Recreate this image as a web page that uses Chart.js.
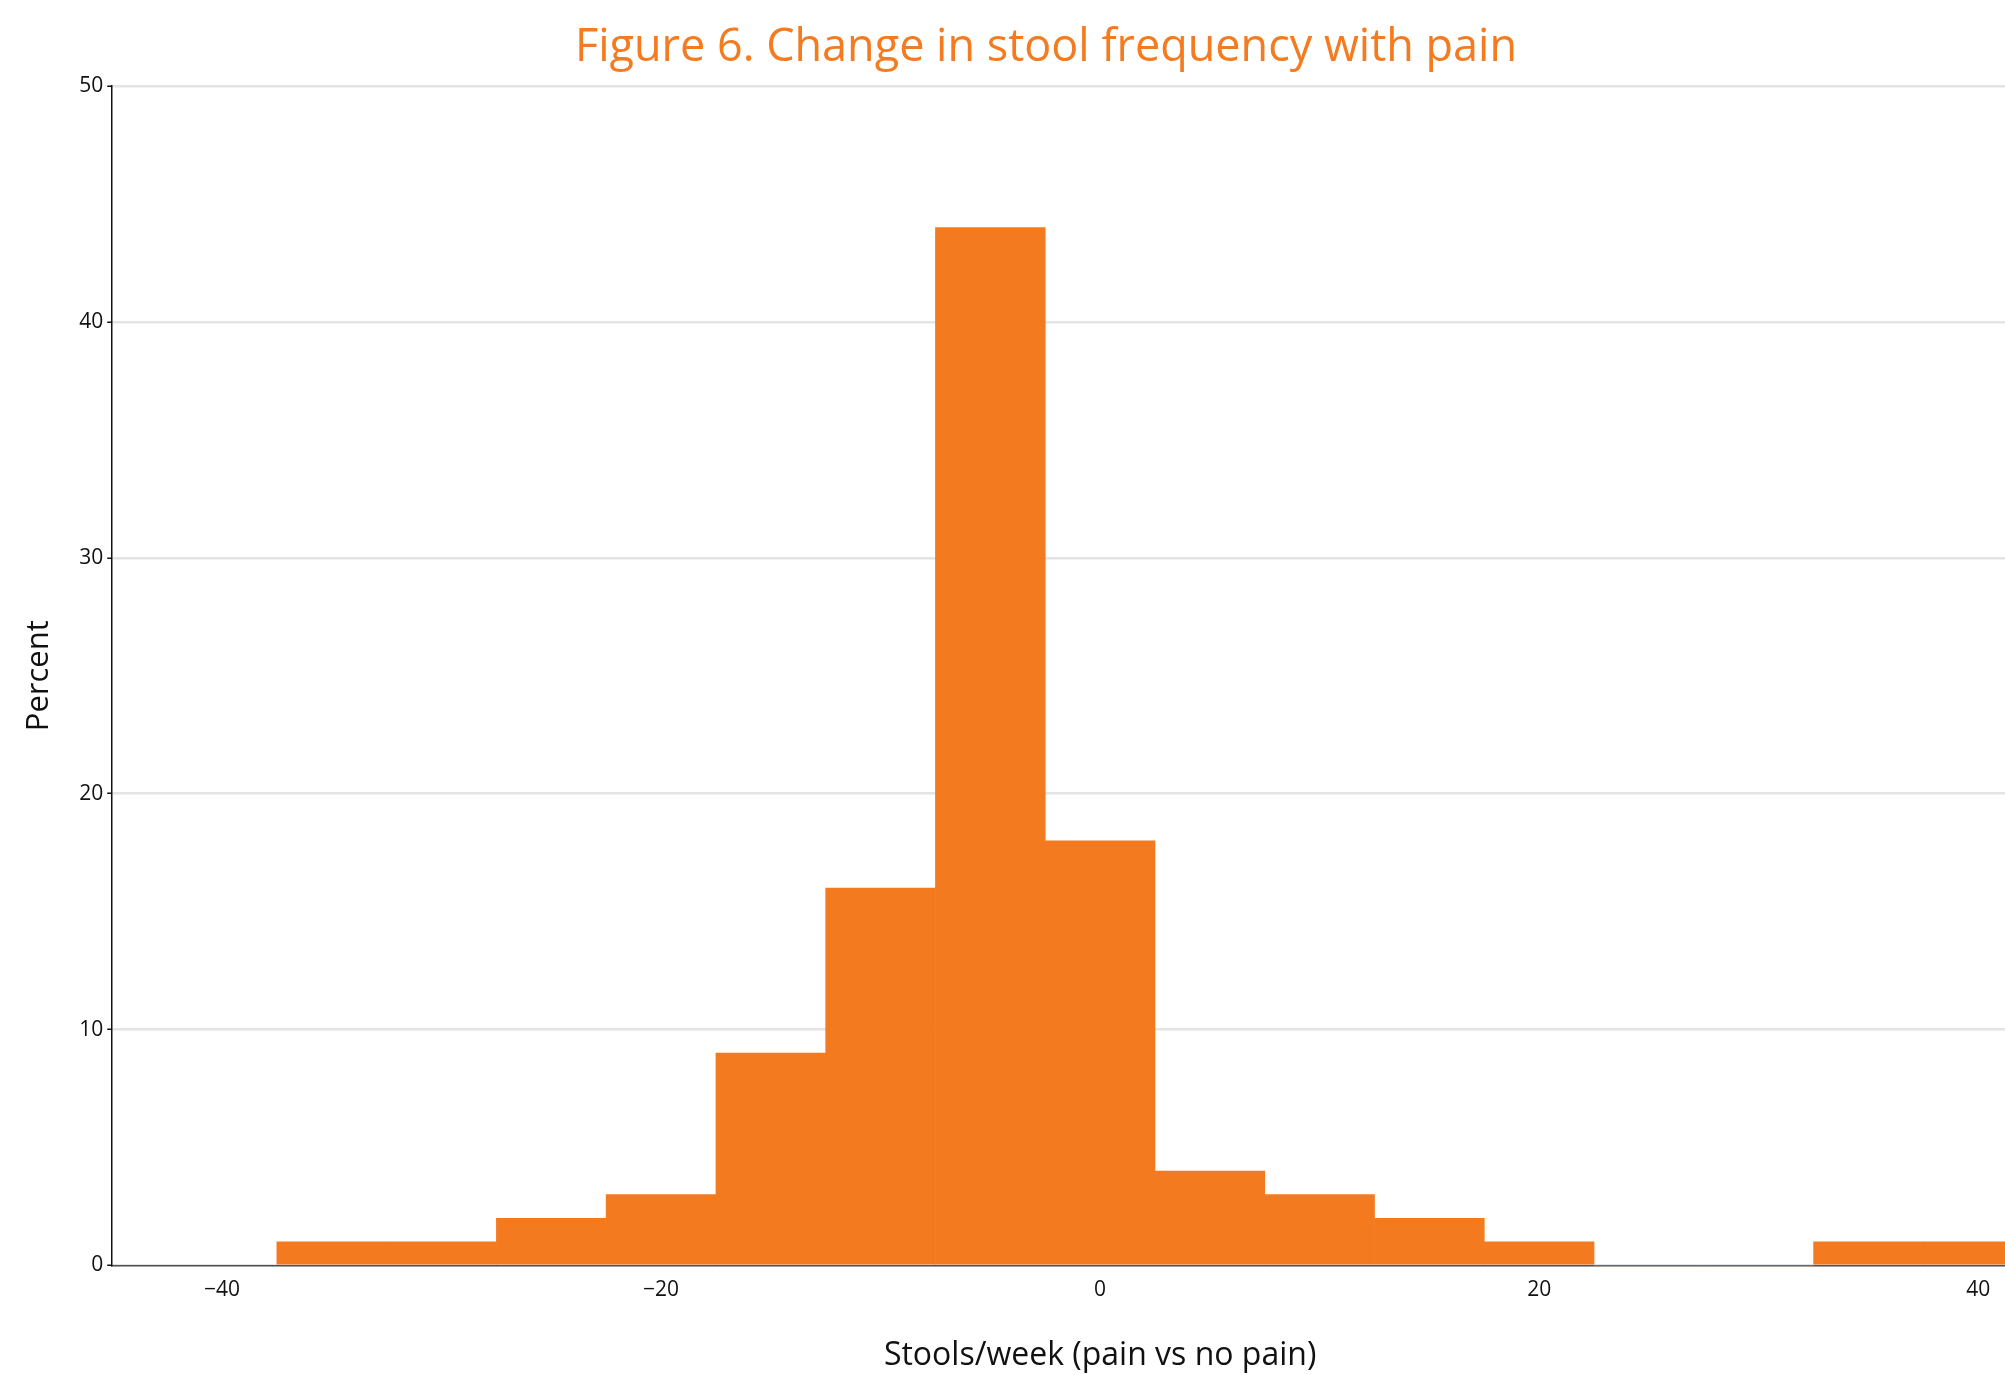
<!DOCTYPE html>
<html>
<head>
<meta charset="utf-8">
<script src="https://cdn.jsdelivr.net/npm/chart.js@4/dist/chart.umd.min.js"></script>
<style>
  html, body { margin: 0; padding: 0; background: #ffffff; overflow: hidden; width: 2005px; height: 1375px; }
  #wrap { position: absolute; left: 0; top: 0; width: 2090px; height: 1375px; }
  canvas { display: block; }
</style>
</head>
<body>
<div id="wrap"><canvas id="c" width="2090" height="1375"></canvas></div>
<script>
// ---- data ----
const binCenters = [-35, -30, -25, -20, -15, -10, -5, 0, 5, 10, 15, 20, 25, 30, 35, 40];
const percentValues = [1, 1, 2, 3, 9, 16, 44, 18, 4, 3, 2, 1, 0, 0, 1, 1];
const xTickValues = [-40, -20, 0, 20, 40];
const yTickValues = [0, 10, 20, 30, 40, 50];
const titleText = 'Figure 6. Change in stool frequency with pain';
const xTitleText = 'Stools/week (pain vs no pain)';
const yTitleText = 'Percent';

const ORANGE = '#F47A20';
const FONT = "'Open Sans', 'Noto Sans', sans-serif";

const points = binCenters.map((x, i) => ({ x: x, y: percentValues[i] }));

new Chart(document.getElementById('c'), {
  type: 'bar',
  data: {
    datasets: [{
      data: points,
      backgroundColor: ORANGE,
      borderWidth: 0,
      barPercentage: 1.0,
      categoryPercentage: 1.0
    }]
  },
  options: {
    responsive: false,
    animation: false,
    events: [],
    layout: { padding: { left: 4, right: 2, top: 0, bottom: 0 } },
    plugins: {
      legend: { display: false },
      tooltip: { enabled: false },
      title: {
        display: true,
        text: titleText,
        color: '#F47B20',
        font: { family: FONT, size: 45, weight: 'normal' },
        padding: { top: 21, bottom: 11 }
      }
    },
    scales: {
      x: {
        type: 'linear',
        offset: false,
        min: -45,
        max: 45,
        z: 1,
        grid: { display: false, drawTicks: false },
        border: { display: true, color: 'rgba(0,0,0,0.65)', width: 1.5 },
        afterBuildTicks: (axis) => { axis.ticks = xTickValues.map(v => ({ value: v })); },
        ticks: {
          color: '#111',
          font: { family: FONT, size: 21 },
          padding: 12,
          maxRotation: 0,
          autoSkip: false,
          callback: (v) => (v < 0 ? '\u2212' + Math.abs(v) : String(v))
        },
        title: {
          display: true,
          text: xTitleText,
          color: '#111',
          font: { family: FONT, size: 32 },
          padding: { top: 22, bottom: 0 }
        }
      },
      y: {
        min: 0,
        max: 50,
        afterBuildTicks: (axis) => { axis.ticks = yTickValues.map(v => ({ value: v })); },
        grid: {
          color: '#e4e4e4',
          lineWidth: 2.5,
          drawTicks: true,
          tickLength: 5,
          tickColor: '#111',
          tickWidth: 1.5
        },
        border: { display: true, color: '#111', width: 1.5 },
        ticks: {
          color: '#111',
          font: { family: FONT, size: 21 },
          padding: 4
        },
        title: {
          display: true,
          text: yTitleText,
          color: '#111',
          font: { family: FONT, size: 31 },
          padding: { top: 16.5, bottom: 17.5 }
        }
      }
    }
  }
});
</script>
</body>
</html>
